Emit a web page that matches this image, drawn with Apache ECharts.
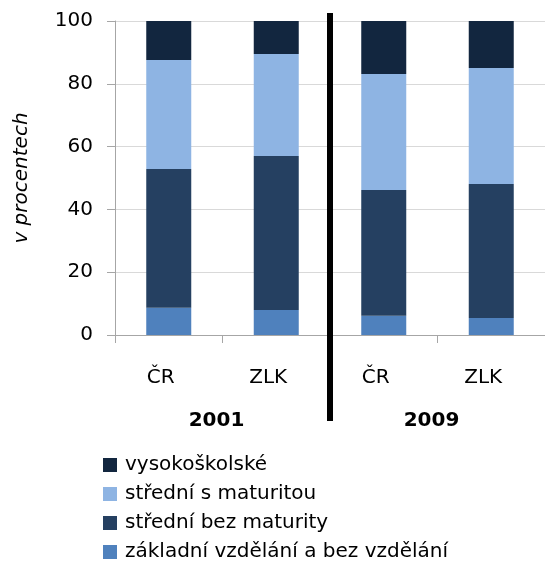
<!DOCTYPE html>
<html>
<head>
  <meta charset="utf-8" />
  <title>Vzdělání</title>
  <script src="https://cdn.jsdelivr.net/npm/echarts@6/dist/echarts.min.js"></script>
  <style>
    html, body { margin: 0; padding: 0; background: #fff; }
  </style>
</head>
<body>
<div id="main" style="width:545px;height:561px;"></div>
<script type="text/javascript">
  // data
  var categories = ['ČR', 'ZLK', 'ČR', 'ZLK'];
  var years = ['2001', '2009'];
  var zakladni = [8.7, 8.0, 6.1, 5.4];
  var bezMaturity = [44.2, 49.0, 40.1, 42.7];
  var sMaturitou = [34.7, 32.5, 36.9, 36.9];
  var vysokoskolske = [12.4, 10.5, 16.9, 15.0];
  var yTicks = [0, 20, 40, 60, 80, 100];

  var font = 'DejaVu Sans';
  var chart = echarts.init(document.getElementById('main'));

  function bar(name, data, color) {
    return {
      name: name,
      type: 'bar',
      stack: 'total',
      barWidth: 45,
      data: data,
      itemStyle: { color: color },
      emphasis: { disabled: true }
    };
  }

  var option = {
    animation: false,
    textStyle: { fontFamily: font },
    grid: { left: 115, top: 21, width: 442, height: 314 },
    legend: {
      orient: 'vertical',
      left: 98,
      top: 450,
      width: 440,
      height: 140,
      itemWidth: 14,
      itemHeight: 14,
      itemGap: 9,
      icon: 'rect',
      textStyle: { fontSize: 20, color: '#000', fontFamily: font, padding: [0, 0, 0, 3] },
      data: ['vysokoškolské', 'střední s maturitou', 'střední bez maturity', 'základní vzdělání a bez vzdělání']
    },
    xAxis: [
      {
        type: 'category',
        data: categories,
        axisLine: { lineStyle: { color: '#a6a6a6', width: 1 } },
        axisTick: { show: true, length: 8, lineStyle: { color: '#a6a6a6' } },
        axisLabel: { fontSize: 20, color: '#000', margin: 33, padding: [0, 16, 0, 0] },
        splitLine: { show: false }
      },
      {
        type: 'category',
        data: years,
        position: 'bottom',
        offset: 68,
        axisLine: { show: false },
        axisTick: { show: false },
        axisLabel: { fontSize: 20, fontWeight: 'bold', color: '#000', padding: [0, 12, 0, 0] }
      }
    ],
    yAxis: {
      type: 'value',
      min: yTicks[0],
      max: yTicks[yTicks.length - 1],
      interval: 20,
      name: 'v procentech',
      nameLocation: 'middle',
      nameGap: 83,
      nameTextStyle: { fontSize: 20, fontStyle: 'italic', color: '#000' },
      axisLine: { show: true, lineStyle: { color: '#a6a6a6' } },
      axisTick: { show: true, length: 8, lineStyle: { color: '#a6a6a6' } },
      axisLabel: { fontSize: 20, color: '#000', margin: 22 },
      splitLine: { lineStyle: { color: '#d9d9d9' } }
    },
    series: [
      bar('základní vzdělání a bez vzdělání', zakladni, '#4f81bd'),
      bar('střední bez maturity', bezMaturity, '#254061'),
      bar('střední s maturitou', sMaturitou, '#8eb4e3'),
      bar('vysokoškolské', vysokoskolske, '#12263f')
    ]
  };

  chart.setOption(option);

  // separator between the two years, placed from the axis scale
  var x1 = chart.convertToPixel({ xAxisIndex: 0 }, 1);
  var x2 = chart.convertToPixel({ xAxisIndex: 0 }, 2);
  var sepX = (x1 + x2) / 2;
  chart.setOption({
    graphic: [{
      type: 'rect',
      shape: { x: sepX - 3, y: 13, width: 6, height: 408 },
      style: { fill: '#000' },
      z: 100
    }]
  });
</script>
</body>
</html>
